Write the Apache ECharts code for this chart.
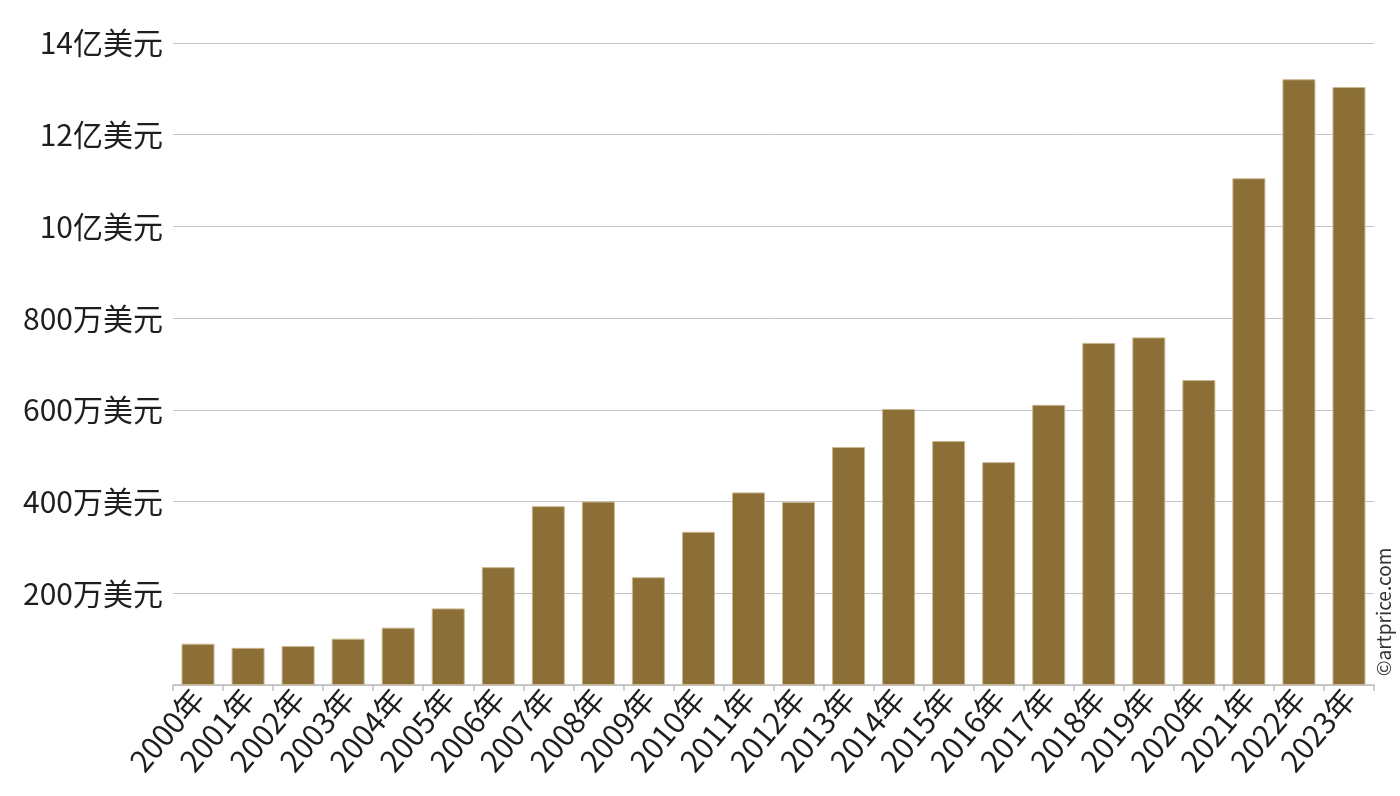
<!DOCTYPE html>
<html>
<head>
<meta charset="utf-8">
<script src="https://cdn.jsdelivr.net/npm/echarts@6/dist/echarts.min.js"></script>
<style>
    html, body { margin: 0; padding: 0; background: #fff; }
    #chart { width: 1400px; height: 796px; }
</style>
</head>
<body>
<div id="chart"></div>
<script>
    // 年份
    let years = ['2000年', '2001年', '2002年', '2003年', '2004年', '2005年', '2006年', '2007年',
        '2008年', '2009年', '2010年', '2011年', '2012年', '2013年', '2014年', '2015年',
        '2016年', '2017年', '2018年', '2019年', '2020年', '2021年', '2022年', '2023年'];
    // 成交额, 单位: 亿美元
    let turnover = [0.90, 0.81, 0.85, 1.01, 1.25, 1.67, 2.57, 3.90,
        4.00, 2.35, 3.34, 4.20, 3.99, 5.19, 6.02, 5.32,
        4.86, 6.11, 7.46, 7.58, 6.65, 11.05, 13.21, 13.04];
    // y轴刻度文字 (0, 2, 4 ... 14)
    let tickLabels = ['', '200万美元', '400万美元', '600万美元', '800万美元', '10亿美元', '12亿美元', '14亿美元'];

    let fontFamily = '"Noto Sans CJK SC", "Noto Sans", sans-serif';
    let chart = echarts.init(document.getElementById('chart'));
    let option = {
        animation: false,
        grid: {
            left: 173,
            right: 26,
            top: 43,
            bottom: 111,
            containLabel: false
        },
        xAxis: {
            type: 'category',
            data: years,
            axisLine: { lineStyle: { color: '#bdbdbd', width: 1.5 } },
            axisTick: { show: true, length: 6, lineStyle: { color: '#bdbdbd', width: 1.5 } },
            axisLabel: {
                rotate: 50,
                interval: 0,
                margin: 8,
                color: '#1e1e1e',
                fontSize: 30,
                fontFamily: fontFamily
            }
        },
        yAxis: {
            type: 'value',
            min: 0,
            max: 14,
            interval: 2,
            axisLine: { show: false },
            axisTick: { show: false },
            splitLine: { lineStyle: { color: '#c4c4c4', width: 1 } },
            axisLabel: {
                margin: 10,
                color: '#1e1e1e',
                fontSize: 30,
                fontFamily: fontFamily,
                formatter: function (val) {
                    return tickLabels[Math.round(val / 2)];
                }
            }
        },
        series: [{
            type: 'bar',
            data: turnover,
            barWidth: 33,
            itemStyle: {
                color: '#8b6f37',
                borderColor: '#c9b68d',
                borderWidth: 1
            }
        }],
        graphic: [{
            type: 'text',
            x: 1384,
            y: 612,
            rotation: Math.PI / 2,
            style: {
                text: '©artprice.com',
                fill: '#333',
                font: '19px ' + fontFamily,
                align: 'center',
                verticalAlign: 'middle'
            }
        }]
    };
    chart.setOption(option);
</script>
</body>
</html>
